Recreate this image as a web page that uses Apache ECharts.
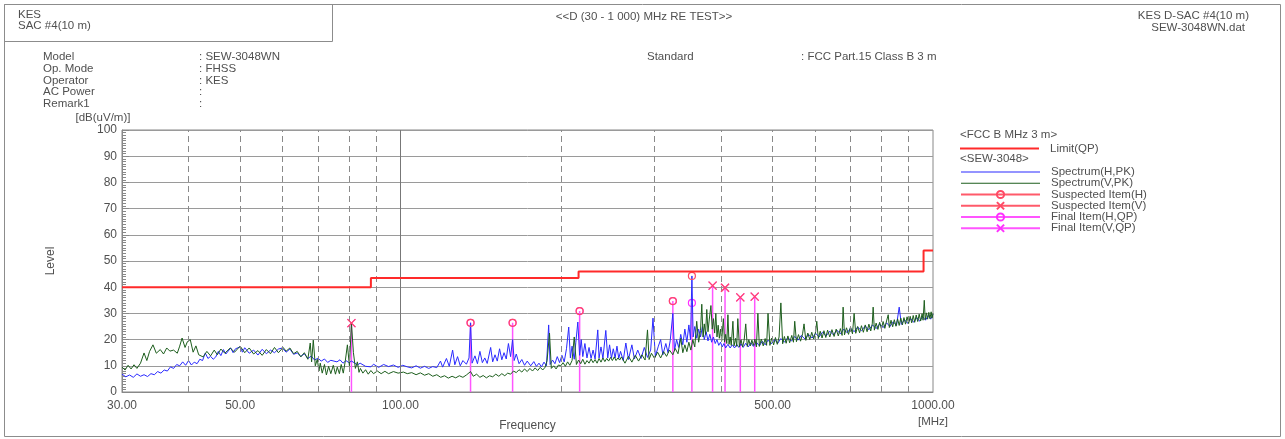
<!DOCTYPE html>
<html>
<head>
<meta charset="utf-8">
<script src="https://cdn.jsdelivr.net/npm/echarts@6/dist/echarts.min.js"></script>
<style>
html,body{margin:0;padding:0;background:#fff;}
#chart{width:1285px;height:439px;}
</style>
</head>
<body>
<div id="chart"></div>
<script>
// ---------- DATA ----------
const xLabelValues = [30, 50, 100, 500, 1000];
const xGridValues = [40, 50, 60, 70, 80, 90, 100, 200, 300, 400, 500, 600, 700, 800, 900];
const yMin = 0, yMax = 100, yStep = 10;

// Limit (QP) breakpoints [MHz, dB(uV/m)]
const limitSteps = [[30, 40], [88, 43.5], [216, 46], [960, 54], [1000, 54]];

// Spectrum (H, PK) [MHz, dB(uV/m)]
const specH = [
 [30,6.8],[30.5,5.8],[31,6.5],[31.5,5.6],[32,6.9],[32.5,6.0],[33,6.6],[33.5,5.9],[34,7.0],[34.5,6.6],
 [35,7.8],[35.5,7.2],[36,8.4],[36.5,8.0],[37,9.6],[37.5,9.0],[38,10.5],[38.5,10.0],[39,11.5],[39.5,10.2],
 [40,12.0],[40.5,10.3],[41,11.4],[41.5,10.8],[42,12.5],[42.5,12.0],[43,14.9],[43.5,12.8],[44,13.6],[44.5,12.5],
 [45,13.4],[45.5,15.5],[46,13.9],[46.5,16.2],[47,14.5],[48,16.8],[48.5,15.0],[49,16.5],[50,17.2],[50.5,15.2],
 [51,16.9],[52,14.8],[53,16.0],[54,14.1],[55,16.3],[56,14.6],[57,16.0],[58,15.0],[59,16.4],[60,16.8],
 [61,15.2],[62,16.4],[63,14.4],[64,14.9],[65,13.6],[66,14.6],[67,12.8],[68,13.7],[69,12.2],[70,12.9],
 [71,11.8],[72,12.6],[73,11.3],[74,12.1],[76,11.5],[77,12.3],[78,11.0],[79,12.0],[80,11.2],[80.9,11.8],
 [82,11.1],[83,10.3],[84,11.0],[86,9.8],[88,9.6],[89,10.6],[91,9.4],[93,10.5],[95,9.7],[97,10.3],
 [99,9.4],[101,10.2],[103,9.6],[105,9.2],[107,10.0],[109,9.1],[111,9.8],[113,9.0],[115,9.7],[117,9.3],
 [118.9,11.8],[120,9.5],[122,12.8],[123.5,9.8],[125.3,16.0],[126.5,10.4],[128,13.5],[129.5,10.0],[131,12.0],[133,10.6],
 [134.5,13.0],[135.4,26.4],[136.3,11.0],[138,13.8],[139.5,10.8],[141,15.5],[142.5,11.2],[144,13.0],[145.5,10.9],[147.7,17.0],
 [149,11.5],[150.5,14.2],[152,11.8],[153.5,16.5],[155,12.3],[156.5,15.0],[158,12.6],[159.5,18.5],[161,13.5],[162.4,20.0],
 [163.5,12.0],[165,14.5],[167,10.8],[169,12.4],[171,10.2],[173,11.8],[175.6,10.0],[178,11.6],[180,9.8],[182,11.0],
 [184,9.6],[186,11.4],[188,10.0],[189.8,25.6],[191,10.5],[193,12.2],[195,10.8],[197,13.5],[199,11.2],[201,14.0],
 [203,11.5],[205,16.5],[207,24.8],[208.5,13.0],[210,17.5],[212,12.5],[213.5,19.0],[215.3,26.7],[217,14.0],[218.5,20.0],
 [220,13.5],[222,18.5],[224,13.0],[226,17.0],[228,12.8],[230,16.0],[232,12.6],[234.7,23.7],[236,13.0],[238,17.2],
 [240,12.8],[243,23.5],[245,13.0],[247,18.0],[249,12.9],[251,16.5],[253,13.0],[255,17.5],[257,12.8],[259,15.5],
 [262,12.0],[265,18.7],[268,12.4],[272,18.0],[275,12.6],[279,16.0],[283,12.8],[287,17.0],[291,13.2],[295,16.0],
 [298,28.2],[301,13.6],[305,17.5],[308,20.0],[311,14.2],[315,18.5],[318,15.0],[321,19.5],[324.7,30.0],[327,15.8],
 [330,20.0],[333,17.0],[336,22.0],[339,18.0],[342,24.0],[345,19.0],[348,25.6],[350.5,20.0],[352.6,44.3],[354.5,21.0],
 [357,25.0],[360,20.5],[363,24.0],[366,21.0],[369,25.0],[372,20.0],[375,23.0],[378,19.5],[381,22.0],[384,19.0],
 [387,21.0],[390,18.5],[393,20.0],[396,17.8],[399,19.0],[402,17.2],[405,18.5],[408,16.8],[412,18.2],[416,16.8],
 [420,18.0],[424,16.8],[428,18.2],[432,17.0],[436,18.4],[440,17.0],[445,18.6],[450,17.2],[455,18.8],[460,17.4],
 [466,19.0],[472,17.6],[478,19.4],[484,18.0],[490,19.8],[497,18.4],[504,20.0],[511,18.6],[518,20.4],[526,19.0],
 [534,20.8],[542,19.4],[550,21.2],[558,19.8],[566,21.6],[575,20.2],[584,22.0],[593,20.6],[602,22.4],[611,21.0],
 [620,22.8],[630,21.4],[640,23.2],[650,21.8],[660,23.6],[670,22.2],[680,24.0],[690,22.6],[700,24.4],[711,23.0],
 [722,24.8],[734,23.4],[746,25.2],[758,23.8],[770,25.6],[782,24.2],[794,26.0],[806,24.6],[818,26.4],[830,25.0],
 [842,26.8],[854,25.4],[864,32.4],[872,25.8],[884,27.6],[896,26.2],[908,28.0],[920,26.6],[932,28.4],[944,27.0],
 [956,28.8],[968,27.4],[980,29.2],[990,27.8],[1000,29.6]
];

// Spectrum (V, PK) [MHz, dB(uV/m)]
const specV = [
 [30,9.5],[30.4,8.4],[30.8,10.2],[31.2,8.8],[31.6,10.4],[32,9.0],[32.5,11.0],[33,14.9],[33.4,12.0],[33.8,15.5],
 [34.3,18.0],[34.8,14.8],[35.4,16.2],[35.9,14.5],[36.4,16.8],[36.9,15.6],[37.5,16.0],[38.1,14.8],[38.5,17.5],[38.9,20.6],
 [39.4,17.0],[39.8,19.2],[40.3,20.0],[40.8,15.2],[41.3,17.6],[41.8,14.2],[42.6,13.4],[43.3,15.5],[44,13.8],[44.7,16.0],
 [45.3,14.2],[46,16.4],[46.8,14.8],[47.9,16.8],[48.8,15.2],[50,17.5],[51,15.0],[52,16.8],[53,14.5],[54,15.8],
 [55,14.0],[56,16.2],[57,14.6],[58,17.0],[59,15.0],[60.2,17.0],[61,15.6],[62,16.8],[63,14.6],[64,15.5],
 [65,13.4],[66,15.0],[67,12.5],[67.7,18.7],[68.1,11.5],[68.6,19.8],[69.2,10.0],[69.8,12.5],[70.3,8.0],[70.7,11.0],
 [71.3,7.2],[72,10.5],[72.6,6.5],[73.3,9.8],[74,7.0],[74.8,10.2],[75.5,6.8],[76.1,9.5],[76.8,7.0],[77.4,10.5],
 [78.1,7.2],[78.8,12.0],[79.5,18.0],[80.2,10.0],[80.9,26.3],[81.6,15.0],[82.3,9.0],[83,11.5],[83.6,7.5],[84.1,9.0],
 [85,7.2],[86,8.5],[87,6.8],[88,8.2],[89,7.0],[90.5,8.0],[92,7.0],[93.5,7.9],[95,7.0],[97,7.8],
 [99,7.2],[101.3,7.6],[103,7.0],[105,7.4],[107,6.6],[109,7.3],[111,6.4],[113,7.0],[115,6.0],[117,6.6],
 [119,5.6],[121,6.2],[123,5.3],[125,6.0],[127,5.4],[129,6.2],[131,5.6],[133,6.5],[135.4,7.8],[137,6.0],
 [139,6.8],[141,5.6],[143,6.3],[145,5.4],[147,6.2],[149,5.8],[151,6.8],[153,6.0],[155,7.0],[157,6.2],
 [159,7.2],[161,6.8],[163,8.0],[165,7.4],[167,8.5],[169,7.6],[171,8.8],[173,7.8],[175,9.0],[177,8.0],
 [179,9.2],[181,8.2],[183,9.4],[185,8.4],[187,9.5],[188.5,12.0],[190.5,22.5],[192,9.0],[194,10.0],[196,8.8],
 [198,10.3],[200,10.0],[202,11.2],[204,9.8],[206,11.5],[208,10.2],[210,12.0],[212,21.0],[214,10.5],[216,12.2],
 [218,10.8],[220,12.5],[222,10.6],[224,12.0],[226,11.0],[228,12.6],[230,11.2],[232,12.4],[234,11.0],[236,12.8],
 [238,11.4],[240,13.0],[242,11.6],[244,12.8],[246,11.8],[248,13.2],[250,12.0],[252,13.4],[254,12.0],[256,13.0],
 [258,12.2],[260,13.4],[264,11.0],[268,13.6],[272,11.4],[276,14.0],[280,11.8],[284,14.2],[288,12.2],[291,23.7],
 [293,12.4],[296,14.8],[300,12.8],[304,15.2],[308,13.0],[312,15.4],[316,13.6],[320,16.0],[324.7,14.2],[328,16.6],
 [332,14.6],[336,20.5],[339,15.0],[342,18.0],[345,15.4],[348,19.0],[351,16.0],[354,20.0],[357,17.2],[360,27.0],
 [363,19.0],[366,23.5],[368,33.5],[370,21.0],[372,26.0],[374,22.0],[376,31.5],[378,23.0],[380,27.5],[382.8,33.0],
 [385,24.0],[387,28.0],[389,22.5],[391,30.0],[393,21.0],[395,25.5],[397,20.5],[399,24.0],[401,19.5],[404,28.0],
 [406,19.0],[408,22.0],[410,18.5],[412,29.5],[414,18.2],[416,21.0],[418,17.8],[421,27.0],[423,17.6],[426,20.5],
 [428,17.4],[430,28.0],[433,17.2],[436,20.0],[439,17.2],[442,19.8],[445,26.0],[448,17.4],[451,20.0],[454,17.6],
 [457,19.8],[460,17.8],[463,20.2],[466,17.2],[469,30.0],[472,17.4],[476,20.2],[480,17.6],[484,20.4],[487,17.8],
 [490,30.0],[494,17.8],[498,20.6],[502,18.0],[506,20.8],[510,18.2],[514,21.0],[518,34.0],[522,18.4],[526,21.2],
 [530,18.6],[534,21.4],[538,18.8],[543,21.6],[547,19.0],[550,27.0],[554,19.2],[559,21.9],[564,19.4],[569,22.2],
 [572.6,26.0],[577,19.7],[582,22.5],[587,20.0],[592,22.8],[597,20.2],[602,23.0],[605,27.0],[609,20.4],[614,23.2],
 [619,20.6],[624,23.4],[629,20.8],[634,23.6],[640,21.0],[646,23.8],[652,21.2],[658,24.0],[664,21.4],[670,24.2],
 [675,21.6],[678,32.4],[682,21.8],[688,24.5],[694,22.0],[700,24.8],[706,22.2],[711,30.0],[716,22.4],[722,25.0],
 [728,22.6],[734,25.3],[740,22.8],[746,25.6],[752,23.0],[758,25.9],[764,23.3],[769,26.0],[772,32.4],[776,23.6],
 [782,26.3],[788,23.9],[794,26.6],[800,24.1],[806,26.9],[812,24.3],[818,27.1],[824,29.5],[828,24.6],[834,27.4],
 [840,24.9],[846,27.6],[852,25.1],[858,27.9],[864,25.4],[870,28.2],[876,25.6],[882,28.4],[888,25.9],[894,28.7],
 [900,26.1],[906,28.9],[912,26.4],[918,29.2],[924,26.6],[930,29.4],[936,26.9],[942,29.7],[948,27.1],[954,29.9],
 [958,27.4],[963,35.0],[967,27.6],[972,30.2],[977,27.8],[982,30.4],[987,28.0],[992,30.6],[996,28.2],[1000,30.0]
];

// Suspected / Final items [MHz, dB(uV/m)]
const suspectedH = [[135.4,26.4],[162.4,26.4],[217,30.9],[324.7,34.7],[352.6,44.3]];
const suspectedV = [[80.9,26.3],[385.6,40.6],[406.9,39.8],[434.7,36.1],[462.6,36.4]];
const finalH = [[135.4,26.4],[162.4,26.4],[217,30.9],[324.7,34.7],[352.6,34.0]];
const finalV = [[80.9,26.3],[385.6,40.6],[406.9,39.8],[434.7,36.1],[462.6,36.4]];

// ---------- CHART ----------
const FONT = '"Liberation Sans", Arial, sans-serif';
const TXT = '#505050';
const CROSS = 'path://M0,0L8,8M8,0L0,8';

function isolated(points) {            // points separated by gaps (no connecting line)
  const out = [];
  points.forEach(p => { out.push(p); out.push([p[0], null]); });
  return out;
}
function impulses(points) {            // vertical line from axis to each point
  const out = [];
  points.forEach(p => {
    out.push({ value: [p[0], yMin], symbol: 'none' });
    out.push({ value: p });
    out.push([p[0], null]);
  });
  return out;
}

const chart = echarts.init(document.getElementById('chart'), null, { renderer: 'canvas' });

const gridLineData = xGridValues.map(v => v === 100
  ? { xAxis: v, lineStyle: { type: 'solid', color: '#777' } }
  : { xAxis: v });

const option = {
  animation: false,
  backgroundColor: '#fff',
  textStyle: { fontFamily: FONT },
  grid: { left: 122, right: 352, top: 130, bottom: 47, show: true, borderColor: '#888', borderWidth: 1, backgroundColor: 'transparent' },
  xAxis: {
    type: 'log', logBase: 10, min: 30, max: 1000,
    name: 'Frequency', nameLocation: 'middle', nameGap: 28,
    nameTextStyle: { color: TXT, fontSize: 12, fontFamily: FONT },
    axisLine: { lineStyle: { color: '#888' } },
    axisTick: { show: true, inside: true, length: 4, customValues: xGridValues, lineStyle: { color: '#888' } },
    minorTick: { show: false },
    axisLabel: { customValues: xLabelValues, formatter: v => Number(v).toFixed(2), color: TXT, fontSize: 12, margin: 8, fontFamily: FONT },
    splitLine: { show: false }
  },
  yAxis: {
    type: 'value', min: yMin, max: yMax, interval: yStep,
    name: 'Level', nameLocation: 'middle', nameGap: 65, nameRotate: 90,
    nameTextStyle: { color: TXT, fontSize: 12, fontFamily: FONT },
    axisLine: { show: true, lineStyle: { color: '#888' } },
    axisTick: { show: true, inside: true, length: 7, lineStyle: { color: '#888' } },
    minorTick: { show: true, splitNumber: 10, length: 4, lineStyle: { color: '#888' } },
    axisLabel: { color: TXT, fontSize: 12, margin: 5, fontFamily: FONT },
    splitLine: { show: true, lineStyle: { color: '#9a9a9a', width: 1 } }
  },
  legend: [
    {
      data: [{ name: 'Limit(QP)', icon: 'path://M0,0H40V1H0Z' }],
      orient: 'vertical', left: 960, top: 141, padding: 0, itemWidth: 79, itemHeight: 10, itemGap: 0,
      textStyle: { color: TXT, fontSize: 11.5, fontFamily: FONT, lineHeight: 11, padding: [4, 0, 0, 6] },
      selectedMode: false
    },
    {
      data: [
        { name: 'Spectrum(H,PK)', icon: 'path://M0,0H80V1H0Z' },
        { name: 'Spectrum(V,PK)', icon: 'path://M0,0H80V1H0Z' },
        'Suspected Item(H)', 'Suspected Item(V)', 'Final Item(H,QP)', 'Final Item(V,QP)'
      ],
      orient: 'vertical', left: 960, top: 166, padding: 0, itemWidth: 79, itemHeight: 9, itemGap: -0.75,
      textStyle: { color: TXT, fontSize: 11.5, fontFamily: FONT, lineHeight: 11, padding: [0, 0, 0, 6] },
      selectedMode: false
    }
  ],
  series: [
    {
      name: 'gridlines', type: 'line', data: [], z: 1, silent: true,
      markLine: {
        silent: true, symbol: 'none', label: { show: false },
        lineStyle: { color: '#8a8a8a', type: [6, 4], width: 1 },
        data: gridLineData, animation: false
      }
    },
    {
      name: 'Final Item(H,QP)', type: 'line', data: impulses(finalH), z: 2,
      symbol: 'circle', symbolSize: 7, showSymbol: true, connectNulls: false,
      color: '#ff40ff',
      lineStyle: { color: '#ff55ff', width: 1.5 },
      itemStyle: { color: 'rgba(0,0,0,0)', borderColor: '#ff30ff', borderWidth: 1.2 }
    },
    {
      name: 'Final Item(V,QP)', type: 'line', data: impulses(finalV), z: 2,
      symbol: CROSS, symbolSize: 8, showSymbol: true, connectNulls: false,
      color: '#ff40ff',
      lineStyle: { color: '#ff55ff', width: 1.5 },
      itemStyle: { color: 'rgba(0,0,0,0)', borderColor: '#ff30ff', borderWidth: 1.2 }
    },
    {
      name: 'Spectrum(H,PK)', type: 'line', data: specH, z: 3,
      symbol: 'none', showSymbol: false, color: '#2a2aff',
      lineStyle: { color: '#2a2aff', width: 1 }
    },
    {
      name: 'Spectrum(V,PK)', type: 'line', data: specV, z: 4,
      symbol: 'none', showSymbol: false, color: '#1d5e1d',
      lineStyle: { color: '#1d5e1d', width: 1 }
    },
    {
      name: 'Suspected Item(H)', type: 'line', data: isolated(suspectedH), z: 6,
      symbol: 'circle', symbolSize: 7, showSymbol: true, connectNulls: false,
      color: '#ff4a66',
      lineStyle: { color: '#ff5a6a', width: 1 },
      itemStyle: { color: 'rgba(0,0,0,0)', borderColor: '#ff4a66', borderWidth: 1.2 }
    },
    {
      name: 'Suspected Item(V)', type: 'line', data: isolated(suspectedV), z: 6,
      symbol: CROSS, symbolSize: 8, showSymbol: true, connectNulls: false,
      color: '#ff4a66',
      lineStyle: { color: '#ff5a6a', width: 1 },
      itemStyle: { color: 'rgba(0,0,0,0)', borderColor: '#ff4a66', borderWidth: 1.2 }
    },
    {
      name: 'Limit(QP)', type: 'line', data: limitSteps, step: 'end', z: 7,
      symbol: 'none', showSymbol: false, color: '#ff2a2a',
      lineStyle: { color: '#ff2a2a', width: 2 }
    }
  ],
  graphic: [
    // frames
    { type: 'rect', silent: true, shape: { x: 4.5, y: 4.5, width: 1276, height: 432 }, style: { fill: 'none', stroke: '#8c8c8c', lineWidth: 1 } },
    { type: 'rect', silent: true, shape: { x: 4.5, y: 4.5, width: 328, height: 37 }, style: { fill: 'none', stroke: '#8c8c8c', lineWidth: 1 } },
    // header texts
    { type: 'text', x: 18, y: 14.5, style: { text: 'KES', fill: TXT, font: '11.5px ' + FONT, verticalAlign: 'middle' } },
    { type: 'text', x: 18, y: 26, style: { text: 'SAC #4(10 m)', fill: TXT, font: '11.5px ' + FONT, verticalAlign: 'middle' } },
    { type: 'text', x: 644, y: 16.5, style: { text: '<<D (30 - 1 000) MHz RE TEST>>', fill: TXT, font: '11.5px ' + FONT, align: 'center', verticalAlign: 'middle' } },
    { type: 'text', x: 1249, y: 16, style: { text: 'KES D-SAC #4(10 m)', fill: TXT, font: '11.5px ' + FONT, align: 'right', verticalAlign: 'middle' } },
    { type: 'text', x: 1245, y: 27.5, style: { text: 'SEW-3048WN.dat', fill: TXT, font: '11.5px ' + FONT, align: 'right', verticalAlign: 'middle' } },
    // info block
    { type: 'text', x: 43, y: 57, style: { text: 'Model', fill: TXT, font: '11.5px ' + FONT, verticalAlign: 'middle' } },
    { type: 'text', x: 43, y: 69, style: { text: 'Op. Mode', fill: TXT, font: '11.5px ' + FONT, verticalAlign: 'middle' } },
    { type: 'text', x: 43, y: 80.5, style: { text: 'Operator', fill: TXT, font: '11.5px ' + FONT, verticalAlign: 'middle' } },
    { type: 'text', x: 43, y: 92, style: { text: 'AC Power', fill: TXT, font: '11.5px ' + FONT, verticalAlign: 'middle' } },
    { type: 'text', x: 43, y: 103.5, style: { text: 'Remark1', fill: TXT, font: '11.5px ' + FONT, verticalAlign: 'middle' } },
    { type: 'text', x: 199, y: 57, style: { text: ': SEW-3048WN', fill: TXT, font: '11.5px ' + FONT, verticalAlign: 'middle' } },
    { type: 'text', x: 199, y: 69, style: { text: ': FHSS', fill: TXT, font: '11.5px ' + FONT, verticalAlign: 'middle' } },
    { type: 'text', x: 199, y: 80.5, style: { text: ': KES', fill: TXT, font: '11.5px ' + FONT, verticalAlign: 'middle' } },
    { type: 'text', x: 199, y: 92, style: { text: ':', fill: TXT, font: '11.5px ' + FONT, verticalAlign: 'middle' } },
    { type: 'text', x: 199, y: 103.5, style: { text: ':', fill: TXT, font: '11.5px ' + FONT, verticalAlign: 'middle' } },
    { type: 'text', x: 647, y: 57, style: { text: 'Standard', fill: TXT, font: '11.5px ' + FONT, verticalAlign: 'middle' } },
    { type: 'text', x: 801, y: 57, style: { text: ': FCC Part.15 Class B 3 m', fill: TXT, font: '11.5px ' + FONT, verticalAlign: 'middle' } },
    // axis units
    { type: 'text', x: 103, y: 118, style: { text: '[dB(uV/m)]', fill: TXT, font: '11.5px ' + FONT, align: 'center', verticalAlign: 'middle' } },
    { type: 'text', x: 933, y: 422, style: { text: '[MHz]', fill: TXT, font: '11.5px ' + FONT, align: 'center', verticalAlign: 'middle' } },
    // legend group headers
    { type: 'text', x: 960, y: 135, style: { text: '<FCC B MHz 3 m>', fill: TXT, font: '11.5px ' + FONT, verticalAlign: 'middle' } },
    { type: 'text', x: 960, y: 158.5, style: { text: '<SEW-3048>', fill: TXT, font: '11.5px ' + FONT, verticalAlign: 'middle' } }
  ]
};

chart.setOption(option);
</script>
</body>
</html>
